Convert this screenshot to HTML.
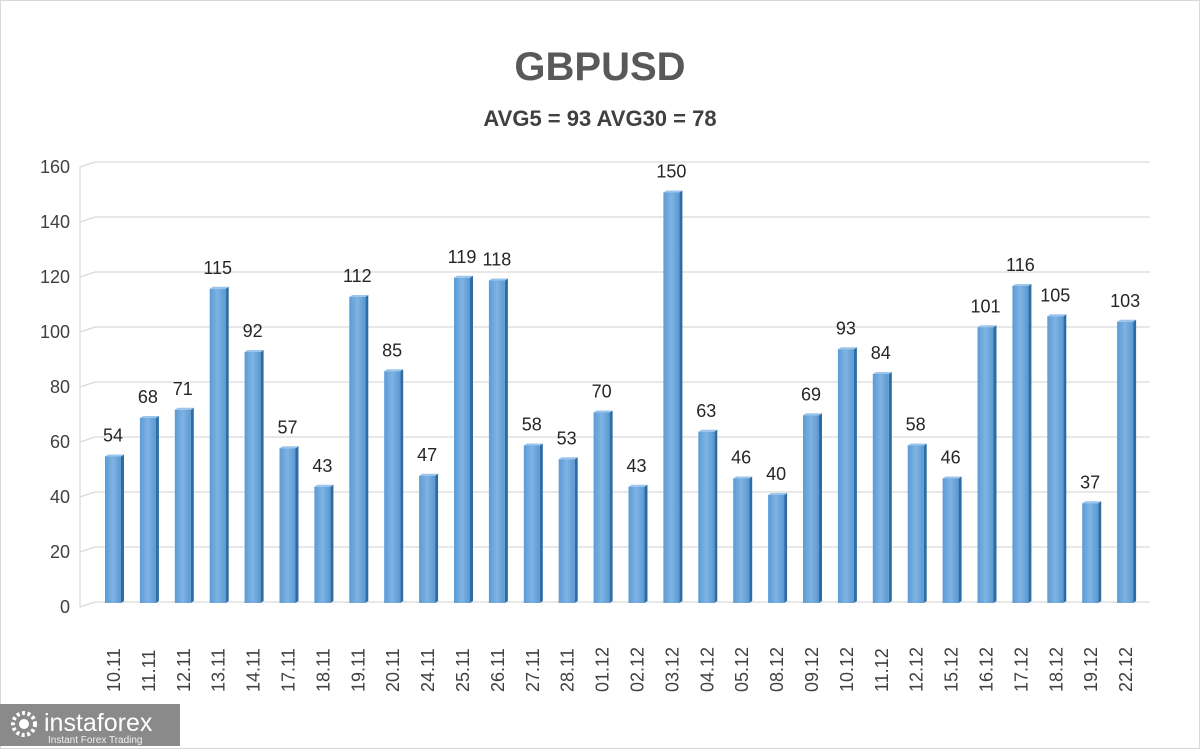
<!DOCTYPE html>
<html><head><meta charset="utf-8"><style>
body{margin:0;background:#fff}
svg{display:block;font-family:"Liberation Sans",sans-serif}
</style></head><body>
<svg width="1200" height="749" viewBox="0 0 1200 749" xmlns="http://www.w3.org/2000/svg">
<defs>
<linearGradient id="g" x1="0" x2="1" y1="0" y2="0">
<stop offset="0" stop-color="#5b9bd5"/><stop offset="0.5" stop-color="#7fb3e3"/><stop offset="1" stop-color="#5a98d2"/>
</linearGradient>
</defs>
<rect x="0.5" y="0.5" width="1199" height="748" fill="#fff" stroke="#d9d9d9"/>
<text x="600" y="80" text-anchor="middle" font-size="40" font-weight="bold" fill="#595959">GBPUSD</text>
<text x="600" y="126" text-anchor="middle" font-size="22" font-weight="bold" fill="#404040">AVG5 = 93 AVG30 = 78</text>
<g id="grid" stroke="#d9d9d9" stroke-width="1.2" fill="none"></g>
<g id="yl" font-size="18" fill="#404040" text-anchor="end"></g>
<g id="bars"></g>
<g id="vl" font-size="18" fill="#262626" text-anchor="middle"></g>
<g id="xl" font-size="18" fill="#404040"></g>
<rect x="0" y="704" width="180" height="42" fill="#8a8a8a"/>
<circle cx="24" cy="724" r="11" fill="none" stroke="#fff" stroke-width="4" stroke-dasharray="3 2.5"/>
<circle cx="24" cy="724" r="5" fill="#fff"/>
<text x="44" y="731" font-size="25" fill="#fff">instaforex</text>
<text x="48" y="743" font-size="10" fill="#f0f0f0">Instant Forex Trading</text>
</svg>
<script>
var NS="http://www.w3.org/2000/svg";
function el(p,t,a,txt){var e=document.createElementNS(NS,t);for(var k in a)e.setAttribute(k,a[k]);if(txt!==undefined)e.textContent=txt;document.getElementById(p).appendChild(e);}
for(var v=0;v<=160;v+=20){var y=605-v*2.75;
el("grid","polyline",{points:"80,"+(y+2)+" 95,"+(y-3)+" 1150,"+(y-3)});
el("yl","text",{x:70,y:y+8},v);}
el("grid","line",{x1:80,y1:607,x2:80,y2:167});
var d=[["10.11",54],["11.11",68],["12.11",71],["13.11",115],["14.11",92],["17.11",57],["18.11",43],["19.11",112],["20.11",85],["24.11",47],["25.11",119],["26.11",118],["27.11",58],["28.11",53],["01.12",70],["02.12",43],["03.12",150],["04.12",63],["05.12",46],["08.12",40],["09.12",69],["10.12",93],["11.12",84],["12.12",58],["15.12",46],["16.12",101],["17.12",116],["18.12",105],["19.12",37],["22.12",103]];
d.forEach(function(r,i){var x=105+i*34.9,top=605-r[1]*2.75,b=603;
el("bars","polygon",{points:(x+16)+","+top+" "+(x+19)+","+(top-2)+" "+(x+19)+","+(b-2)+" "+(x+16)+","+b,fill:"#2e6da4"});
el("bars","polygon",{points:x+","+top+" "+(x+3)+","+(top-2)+" "+(x+19)+","+(top-2)+" "+(x+16)+","+top,fill:"#9cc5ec"});
el("bars","rect",{x:x,y:top,width:16,height:b-top,fill:"url(#g)"});
el("vl","text",{x:x+8,y:top-15},r[1]);
el("xl","text",{transform:"translate("+(x+15)+",692) rotate(-90)"},r[0]);
});
</script>
</body></html>
